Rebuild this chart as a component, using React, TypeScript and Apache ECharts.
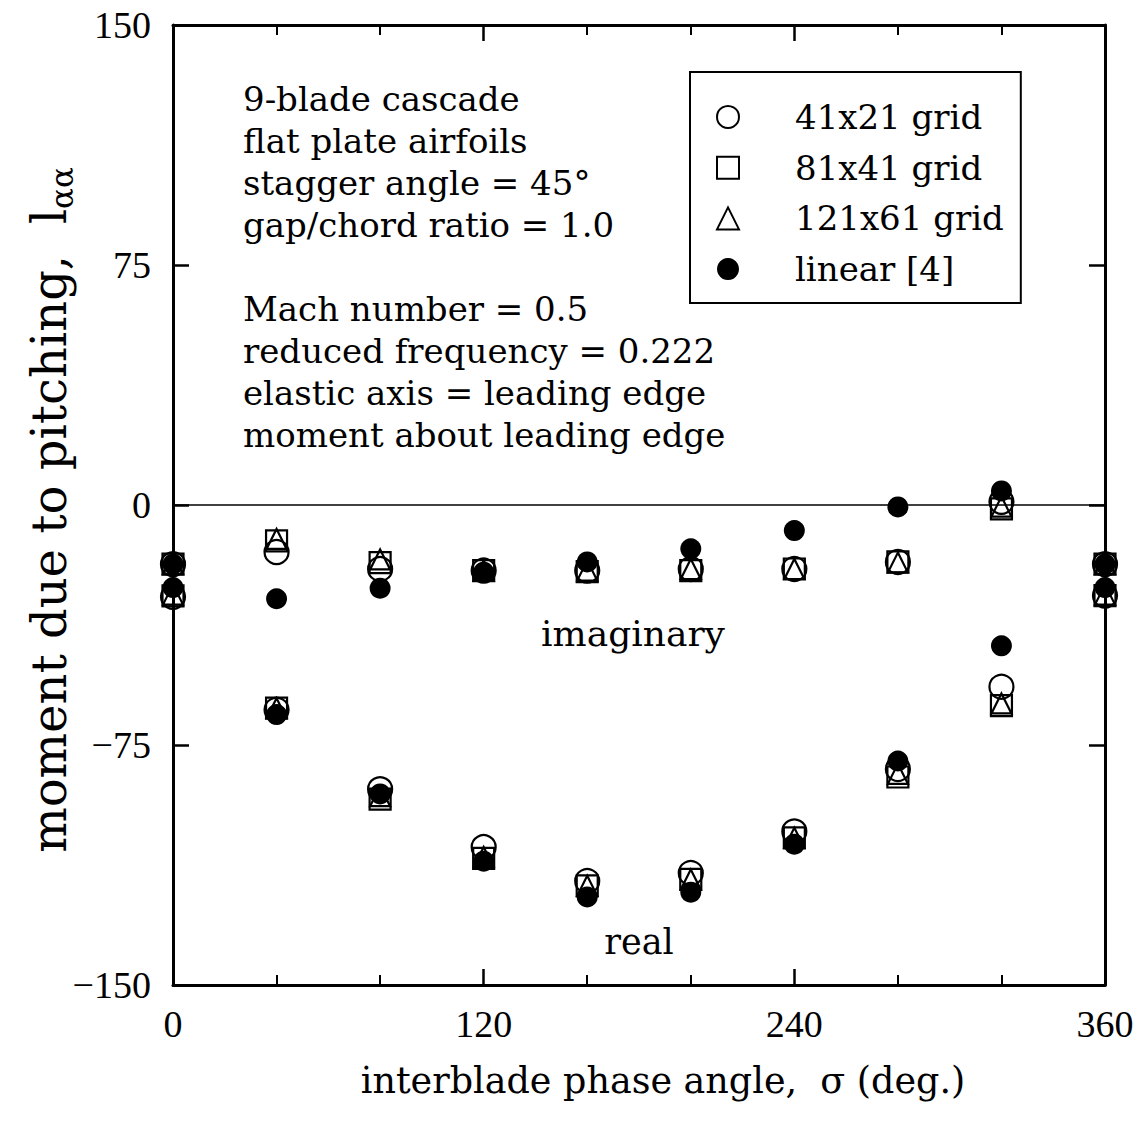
import React, { useEffect, useRef } from "react";
import * as echarts from "echarts";

const phase = [0, 40, 80, 120, 160, 200, 240, 280, 320, 360];

const g41Imag = [-18.5, -14.7, -20, -20.5, -20.5, -20, -20, -17.8, 1, -18.5];
const g41Real = [-28.7, -64, -88.8, -106.9, -117.5, -115, -102, -82.5, -56.8, -28.3];
const g81Imag = [-18.5, -11.2, -18, -20.5, -20.8, -20.5, -20, -17.8, -1.2, -18.5];
const g81Real = [-28.4, -63.5, -91.9, -110.4, -119, -117, -104, -85, -62.7, -28.3];
const g121Imag = [-18.5, -10.6, -17, -20.5, -20.5, -20, -20, -18, -0.5, -18.5];
const g121Real = [-28, -63.5, -91, -110, -119, -117, -104, -84, -62, -28];
const linImag = [-18.5, -29.3, -26, -21, -17.8, -13.7, -8, -0.6, 4.4, -18.5];
const linReal = [-25.8, -65.5, -90.3, -111.3, -122.5, -121, -106, -80, -44, -25.8];

const seriesNames = ["41x21 grid", "81x41 grid", "121x61 grid", "linear [4]"];

const xTicks = [0, 120, 240, 360];
const yTicks = [-150, -75, 0, 75, 150];

const annotationLines = [
  "9-blade cascade",
  "flat plate airfoils",
  "stagger angle = 45°",
  "gap/chord ratio = 1.0",
  "",
  "Mach number = 0.5",
  "reduced frequency = 0.222",
  "elastic axis = leading edge",
  "moment about leading edge",
];

const SERIF = "DejaVu Serif";
const TIMES = "Liberation Serif";

function pairs(imag: number[], real: number[]) {
  const out: number[][] = [];
  phase.forEach((p, i) => out.push([p, imag[i]]));
  phase.forEach((p, i) => out.push([p, real[i]]));
  return out;
}

export default function App() {
  const ref = useRef<HTMLDivElement>(null);
  useEffect(() => {
    if (!ref.current) return;
    const chart = echarts.init(ref.current, null, { renderer: "svg" });
    const openStyle = { color: "rgba(0,0,0,0)", borderColor: "#000", borderWidth: 2.2, opacity: 1 };
    const tick = { show: true, inside: true, length: 16, lineStyle: { width: 2.5, color: "#000" } };
    const minor = { show: true, splitNumber: 3, length: 10, lineStyle: { width: 2, color: "#000" } };
    const axisCommon = {
      type: "value" as const,
      axisLine: { show: true, onZero: false, lineStyle: { color: "#000", width: 3 } },
      splitLine: { show: false },
    };
    const labelFont = { fontFamily: TIMES, fontSize: 38, color: "#000" };
    chart.setOption({
      animation: false,
      backgroundColor: "#fff",
      grid: { left: 173, top: 25, width: 932, height: 960 },
      xAxis: [
        {
          ...axisCommon,
          min: 0,
          max: 360,
          interval: 120,
          position: "bottom",
          axisTick: tick,
          minorTick: minor,
          axisLabel: {
            margin: 20,
            ...labelFont,
            formatter: (v: number) => (xTicks.includes(v) ? String(v) : ""),
          },
        },
        {
          ...axisCommon,
          min: 0,
          max: 360,
          interval: 120,
          position: "top",
          axisTick: tick,
          minorTick: minor,
          axisLabel: { show: false },
        },
      ],
      yAxis: [
        {
          ...axisCommon,
          min: -150,
          max: 150,
          interval: 75,
          position: "left",
          axisTick: tick,
          axisLabel: {
            margin: 22,
            ...labelFont,
            formatter: (v: number) =>
              yTicks.includes(v) ? (v < 0 ? "\u2212" + Math.abs(v) : String(v)) : "",
          },
        },
        {
          ...axisCommon,
          min: -150,
          max: 150,
          interval: 75,
          position: "right",
          axisTick: tick,
          axisLabel: { show: false },
        },
      ],
      legend: {
        orient: "vertical",
        left: 690,
        top: 72,
        padding: [28, 17, 17, 26],
        borderColor: "#000",
        borderWidth: 2,
        itemGap: 16.7,
        itemWidth: 22,
        itemHeight: 22,
        data: seriesNames,
        textStyle: {
          fontFamily: SERIF,
          fontSize: 34,
          color: "#000",
          lineHeight: 34,
          padding: [0, 0, 0, 51],
        },
      },
      series: [
        {
          name: seriesNames[0],
          type: "scatter",
          symbol: "circle",
          symbolSize: 24,
          itemStyle: openStyle,
          data: pairs(g41Imag, g41Real),
        },
        {
          name: seriesNames[1],
          type: "scatter",
          symbol: "rect",
          symbolSize: 21,
          itemStyle: openStyle,
          data: pairs(g81Imag, g81Real),
        },
        {
          name: seriesNames[2],
          type: "scatter",
          symbol: "triangle",
          symbolSize: 20,
          itemStyle: openStyle,
          data: pairs(g121Imag, g121Real),
        },
        {
          name: seriesNames[3],
          type: "scatter",
          symbol: "circle",
          symbolSize: 21,
          itemStyle: { color: "#000", opacity: 1 },
          data: pairs(linImag, linReal),
          markLine: {
            silent: true,
            symbol: ["none", "none"],
            label: { show: false },
            lineStyle: { color: "#000", width: 1.5, type: "solid", opacity: 1 },
            data: [{ yAxis: 0 }],
            z: 1,
          },
        },
      ],
      graphic: [
        ...annotationLines.map((t, i) => ({
          type: "text",
          left: 243,
          top: 82 + i * 42,
          style: { text: t, fontFamily: SERIF, fontSize: 34, fill: "#000" },
        })),
        {
          type: "text",
          x: 633,
          y: 633,
          style: {
            text: "imaginary",
            fontFamily: SERIF,
            fontSize: 36,
            fill: "#000",
            align: "center",
            verticalAlign: "middle",
          },
        },
        {
          type: "text",
          x: 639,
          y: 942,
          style: {
            text: "real",
            fontFamily: SERIF,
            fontSize: 35,
            fill: "#000",
            align: "center",
            verticalAlign: "middle",
          },
        },
        {
          type: "text",
          x: 663,
          y: 1080,
          style: {
            text: "interblade phase angle,  \u03c3 (deg.)",
            fontFamily: SERIF,
            fontSize: 36.5,
            fill: "#000",
            align: "center",
            verticalAlign: "middle",
          },
        },
        {
          type: "text",
          x: 49,
          y: 510,
          rotation: Math.PI / 2,
          style: {
            text: "moment due to pitching,  l{sub|\u03b1\u03b1}",
            fontFamily: SERIF,
            fontSize: 48,
            fill: "#000",
            align: "center",
            verticalAlign: "middle",
            rich: {
              sub: { fontFamily: SERIF, fontSize: 31, fill: "#000", padding: [25, 0, 0, 0] },
            },
          },
        },
      ],
    });
    return () => chart.dispose();
  }, []);
  return (
    <div
      ref={ref}
      style={{ position: "fixed", left: 0, top: 0, width: 1138, height: 1126 }}
    />
  );
}
